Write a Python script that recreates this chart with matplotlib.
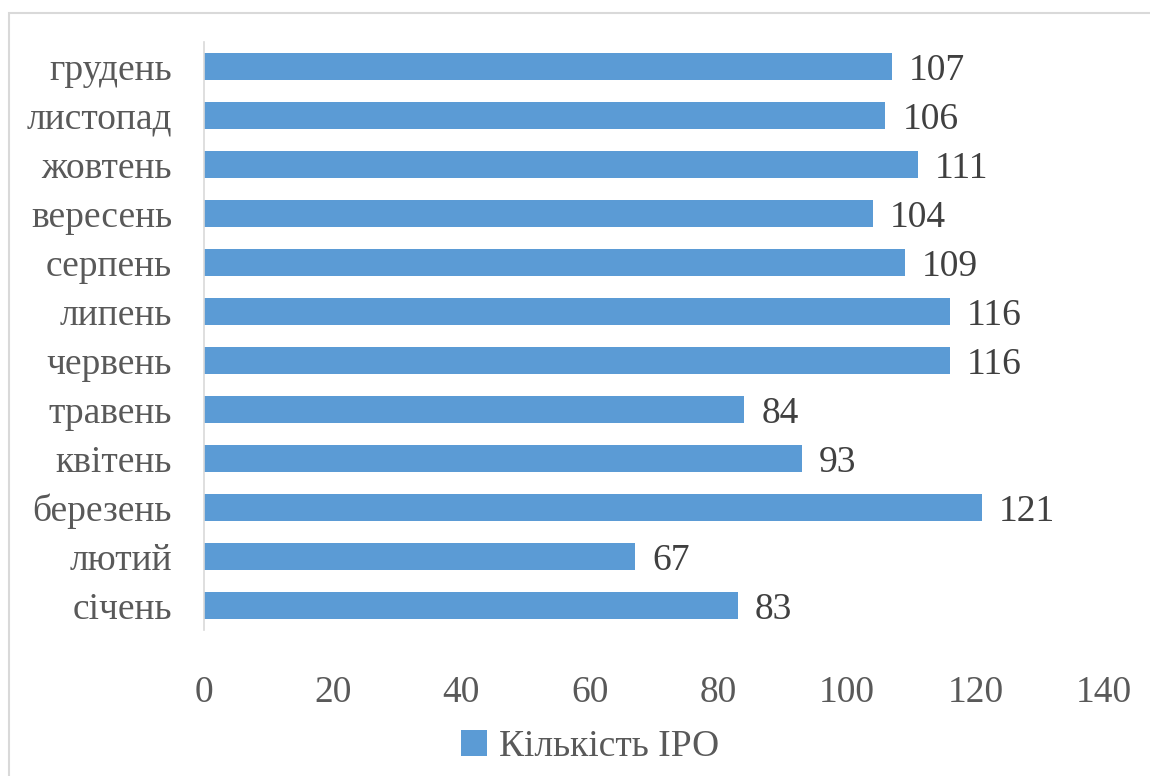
import matplotlib.pyplot as plt
from matplotlib.patches import Rectangle

months = ["січень", "лютий", "березень", "квітень", "травень", "червень",
          "липень", "серпень", "вересень", "жовтень", "листопад", "грудень"]
ipo_count = [83, 67, 121, 93, 84, 116, 116, 109, 104, 111, 106, 107]
x_ticks = [0, 20, 40, 60, 80, 100, 120, 140]

plt.rcParams['font.family'] = ['Liberation Serif', 'DejaVu Serif']
text_color = "#595959"
bar_color = "#5B9BD5"

fig = plt.figure(figsize=(11.5, 7.76), dpi=100)
ax = fig.add_axes([0.1774, 0.1881, 0.7826, 0.7578])

pos = range(len(months))
bars = ax.barh(pos, ipo_count, height=0.57, color=bar_color, label="Кількість ІРО")
for y, v in zip(pos, ipo_count):
    ax.annotate(str(v), (v, y), xytext=(12.5, -3), textcoords="offset points",
                va="center", ha="left", fontsize=27, color="#404040")

ax.set_xlim(0, 140)
ax.set_ylim(-0.5, len(months) - 0.5)
ax.set_xticks(x_ticks)
ax.set_yticks(list(pos))
ax.set_yticklabels(months)
ax.tick_params(axis="both", length=0, labelsize=27, labelcolor=text_color)
ax.tick_params(axis="x", pad=33)
ax.tick_params(axis="y", pad=23)
for s in ["top", "right", "bottom"]:
    ax.spines[s].set_visible(False)
ax.spines["left"].set_color("#D9D9D9")
ax.spines["left"].set_linewidth(1.2)

leg = fig.legend(handles=[bars], loc="center", bbox_to_anchor=(0.513, 0.038),
                 frameon=False, fontsize=27, handlelength=0.7, handleheight=0.7,
                 handletextpad=0.3)
for t in leg.get_texts():
    t.set_color(text_color)

# outer chart border
fig.patches.append(Rectangle((9 / 1150, -0.1), 1.2, 1 - 13 / 776 + 0.1,
                             transform=fig.transFigure, fill=False,
                             edgecolor="#D9D9D9", linewidth=1.5))

fig.savefig("out.png", dpi=100)
